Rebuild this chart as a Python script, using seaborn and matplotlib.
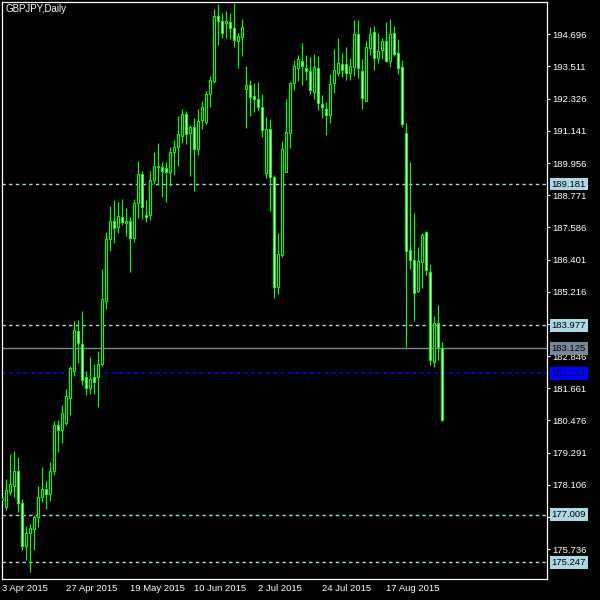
import numpy as np
import pandas as pd
import matplotlib
matplotlib.use("Agg")
import matplotlib.pyplot as plt
import seaborn as sns

# GBPJPY daily bars, 3 Apr 2015 .. 4 Sep 2015
chart_title = "GBPJPY,Daily"

opens = [177.54, 177.28, 177.84, 178.06, 178.61, 177.43, 175.85, 176.33, 176.48, 176.92,
         177.65, 177.95, 177.76, 178.61, 180.31, 180.12, 180.38, 181.30, 182.29, 183.77,
         183.29, 182.07, 181.67, 182.07, 182.07, 182.55, 184.87, 187.16, 187.82, 187.60,
         187.97, 187.75, 187.82, 187.19, 188.48, 189.55, 188.04, 188.04, 189.33, 189.81,
         189.81, 189.77, 189.62, 190.36, 190.55, 190.95, 191.76, 191.06, 191.28, 190.47,
         191.54, 191.47, 192.50, 192.98, 195.37, 195.19, 195.11, 195.15, 194.93, 194.45,
         194.60, 192.68, 192.83, 192.42, 192.31, 192.02, 189.59, 191.21, 189.44, 185.39,
         186.57, 189.62, 191.06, 192.90, 193.46, 193.71, 193.46, 193.34, 192.57, 193.46,
         192.13, 191.95, 191.72, 192.90, 193.27, 193.60, 193.60, 193.27, 193.49, 194.71,
         193.34, 192.24, 194.19, 194.78, 193.82, 194.12, 194.45, 193.71, 194.74, 194.01,
         193.49, 191.06, 186.75, 186.38, 185.24, 186.31, 187.41, 185.94, 182.63, 184.06,
         183.14]
highs = [177.73, 178.32, 179.24, 179.35, 179.13, 177.58, 176.59, 176.66, 176.99, 178.06,
         178.76, 178.24, 178.94, 180.45, 180.49, 181.04, 181.63, 182.48, 184.14, 184.17,
         184.51, 182.29, 182.81, 182.55, 183.03, 186.05, 187.41, 188.37, 188.59, 188.52,
         188.63, 188.30, 187.97, 188.63, 190.03, 189.66, 188.59, 189.66, 190.36, 190.69,
         189.99, 189.99, 190.55, 190.80, 191.69, 191.95, 191.87, 191.36, 191.61, 191.95,
         192.24, 192.61, 193.16, 195.63, 195.81, 195.48, 195.55, 195.48, 195.85, 194.74,
         195.26, 193.53, 193.01, 192.90, 192.94, 192.50, 191.65, 191.58, 189.51, 187.38,
         190.77, 192.31, 192.94, 193.75, 193.93, 194.38, 193.93, 193.86, 193.97, 193.90,
         192.46, 192.20, 193.23, 194.16, 194.56, 194.01, 194.23, 193.82, 195.22, 195.22,
         193.79, 194.45, 194.97, 195.00, 194.74, 194.56, 195.15, 195.26, 195.00, 194.52,
         193.75, 191.43, 189.99, 188.11, 186.86, 187.38, 187.45, 186.24, 184.32, 184.72,
         183.36]
lows = [177.36, 177.17, 177.73, 177.65, 177.10, 175.70, 175.33, 174.89, 175.70, 176.55,
        177.47, 177.21, 177.51, 178.46, 179.31, 179.64, 180.31, 180.67, 182.11, 182.59,
        181.78, 181.41, 181.45, 181.45, 180.97, 182.48, 184.58, 186.72, 187.01, 187.38,
        187.67, 187.27, 185.94, 187.05, 187.93, 187.89, 187.78, 187.86, 189.18, 189.15,
        188.70, 188.52, 189.11, 189.51, 189.85, 190.69, 190.66, 189.48, 188.93, 190.25,
        191.21, 191.39, 192.02, 192.90, 194.30, 194.56, 194.56, 194.52, 194.23, 193.46,
        193.90, 191.25, 191.69, 191.83, 191.91, 190.91, 189.40, 188.19, 184.98, 185.13,
        186.49, 189.62, 190.51, 192.65, 192.98, 192.83, 193.01, 192.50, 192.31, 191.91,
        191.61, 190.99, 191.43, 192.53, 193.16, 193.12, 193.01, 193.01, 193.16, 193.09,
        191.95, 192.24, 193.93, 193.38, 193.64, 193.79, 193.68, 193.49, 193.90, 193.23,
        191.28, 183.18, 186.05, 184.14, 185.20, 185.35, 185.83, 182.52, 182.44, 182.70,
        180.45]
closes = [177.62, 177.91, 178.13, 178.61, 177.43, 175.85, 176.33, 176.51, 176.92, 177.65,
          177.95, 177.76, 178.61, 180.31, 180.12, 180.75, 181.38, 182.41, 183.81, 183.33,
          181.96, 181.67, 182.00, 181.89, 182.55, 184.95, 187.16, 187.82, 187.56, 188.00,
          187.78, 187.82, 187.19, 188.48, 189.55, 188.34, 187.97, 189.33, 189.85, 189.85,
          189.66, 189.62, 190.36, 190.55, 191.02, 191.76, 191.02, 191.28, 190.47, 191.50,
          192.02, 192.50, 193.01, 195.37, 195.19, 194.74, 195.19, 194.93, 194.49, 194.63,
          194.97, 192.83, 192.39, 192.31, 192.02, 191.17, 191.21, 189.44, 185.39, 186.61,
          190.47, 191.10, 192.90, 193.53, 193.79, 193.53, 193.34, 192.65, 193.49, 192.17,
          192.02, 191.72, 192.87, 193.38, 193.64, 193.38, 193.27, 193.53, 194.71, 193.46,
          192.35, 194.23, 194.71, 193.82, 194.08, 194.45, 193.71, 194.71, 193.97, 193.46,
          191.39, 186.72, 186.38, 185.17, 186.35, 187.30, 186.02, 182.70, 184.06, 183.18,
          180.49]

date_tick_bars = [0, 16, 32, 48, 64, 80, 96]
date_tick_labels = ["3 Apr 2015", "27 Apr 2015", "19 May 2015", "10 Jun 2015",
                    "2 Jul 2015", "24 Jul 2015", "17 Aug 2015"]
price_ticks = [194.696, 193.511, 192.326, 191.141, 189.956, 188.771, 187.586, 186.401,
               185.216, 184.031, 182.846, 181.661, 180.476, 179.291, 178.106, 176.921,
               175.736]

level_prices = [189.181, 183.977, 177.009, 175.247]
bid_price = 183.125
blue_price = 182.214

df = pd.DataFrame({"open": opens, "high": highs, "low": lows, "close": closes})
df["bar"] = np.arange(len(df))
df["bottom"] = df[["open", "close"]].min(axis=1)
df["height"] = (df["close"] - df["open"]).abs()
df["fill"] = np.where(df["close"] < df["open"], "white", "black")

sns.set_style("dark", {"axes.facecolor": "black", "figure.facecolor": "black"})
plt.rcParams["font.family"] = ["Liberation Sans", "DejaVu Sans"]

fig = plt.figure(figsize=(6, 6), dpi=100, facecolor="black")
ax = fig.add_axes([2 / 600, 21 / 600, 545 / 600, 577 / 600])
ax.set_facecolor("black")
ax.grid(False)

# level lines
light_blue = "#add8e6"
for p in level_prices:
    ax.axhline(p, color=light_blue, lw=1.0, linestyle=(0, (2.4, 2.4)), zorder=1)
ax.axhline(bid_price, color="#778899", lw=1.0, zorder=1)
ax.axhline(blue_price, color="#0000ff", lw=1.1, linestyle=(0, (2.4, 2.4)), zorder=1)

# candles
green = "#00ff00"
ax.vlines(df["bar"], df["low"], df["high"], color=green, lw=0.85, zorder=2)
ax.bar(df["bar"], df["height"], bottom=df["bottom"], width=0.5,
       color=df["fill"], edgecolor=green, linewidth=0.8, zorder=3)

ax.set_xlim(-0.05, 136.2)
ax.set_ylim(174.634, 195.886)

for s in ax.spines.values():
    s.set_color("white")
    s.set_linewidth(0.9)

ax.yaxis.tick_right()
ax.set_yticks(price_ticks)
ax.set_yticklabels([f"{v:.3f}" for v in price_ticks])
ax.tick_params(axis="y", colors="white", length=2.5, width=0.8, pad=1.5, labelsize=6.8)

ax.set_xticks(date_tick_bars)
ax.set_xticklabels(date_tick_labels, ha="left")
ax.tick_params(axis="x", colors="white", length=3.6, width=0.8, pad=0.3, labelsize=6.8)

# price labels in boxes at right edge
boxes = [(p, light_blue, "black") for p in level_prices]
boxes.append((bid_price, "#778899", "black"))
boxes.append((blue_price, "#0000ff", "#000050"))
for p, bg, fg in boxes:
    ax.annotate(f"{p:.3f}", xy=(1, p), xycoords=("axes fraction", "data"),
                xytext=(3.4, 0), textcoords="offset points", ha="left", va="center",
                fontsize=6.8, color=fg, zorder=10, annotation_clip=False,
                bbox=dict(boxstyle="square,pad=0.2", fc=bg, ec="none"))

fig.text(6 / 600, 1 - 4 / 600, chart_title, color="white", fontsize=7,
         ha="left", va="top")

fig.savefig("out.png", dpi=100, facecolor="black")
